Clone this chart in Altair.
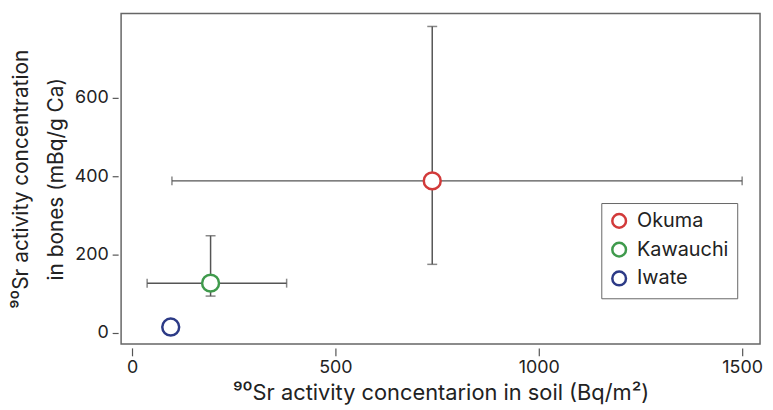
import altair as alt
import pandas as pd

sites = ["Okuma", "Kawauchi", "Iwate"]
soil = [738, 193, 95]
bone = [388, 127, 15]
soil_lo = [98, 37, None]
soil_hi = [1500, 380, None]
bone_lo = [175, 94, None]
bone_hi = [782, 248, None]
colors = ["#d23a3a", "#3f9a4c", "#2c3a86"]

df = pd.DataFrame({"site": sites, "soil": soil, "bone": bone,
                   "soil_lo": soil_lo, "soil_hi": soil_hi,
                   "bone_lo": bone_lo, "bone_hi": bone_hi})
err = df.dropna()

FONT = "Inter"
xs = alt.Scale(domain=[-27, 1544], nice=False, zero=False)
ys = alt.Scale(domain=[-28, 815], nice=False, zero=False)

xax = alt.Axis(values=[0, 500, 1000, 1500], format="d",
               title="⁹⁰Sr activity concentarion in soil (Bq/m²)",
               grid=False, domain=False, offset=4, tickSize=8, tickColor="#555", tickWidth=1.2,
               labelFontSize=18, titleFontSize=22, labelFont=FONT, titleFont=FONT,
               labelColor="#222", titleColor="#222", titleFontWeight="normal",
               labelPadding=3, titlePadding=6)
yax = alt.Axis(values=[0, 200, 400, 600], format="d",
               title=["⁹⁰Sr activity concentration", "in bones (mBq/g Ca)"],
               grid=False, domain=False, offset=3, tickSize=6, tickColor="#555", tickWidth=1.2,
               labelFontSize=18, titleFontSize=21, titleLineHeight=35, labelFont=FONT, titleFont=FONT,
               labelColor="#222", titleColor="#222", titleFontWeight="normal",
               labelPadding=4, titlePadding=8)

base_err = alt.Chart(err)
ecol = "#555555"
hbar = base_err.mark_rule(color=ecol, strokeWidth=1.5).encode(
    x=alt.X("soil_lo:Q", scale=xs, axis=xax), x2="soil_hi:Q", y=alt.Y("bone:Q", scale=ys, axis=yax))
vbar = base_err.mark_rule(color=ecol, strokeWidth=1.5).encode(
    x=alt.X("soil:Q", scale=xs), y=alt.Y("bone_lo:Q", scale=ys), y2="bone_hi:Q")
cap1 = base_err.mark_tick(orient="vertical", size=9, thickness=1.5, color=ecol).encode(
    x=alt.X("soil_lo:Q", scale=xs), y=alt.Y("bone:Q", scale=ys))
cap2 = base_err.mark_tick(orient="vertical", size=9, thickness=1.5, color=ecol).encode(
    x=alt.X("soil_hi:Q", scale=xs), y=alt.Y("bone:Q", scale=ys))
cap3 = base_err.mark_tick(orient="horizontal", size=10, thickness=1.5, color=ecol).encode(
    x=alt.X("soil:Q", scale=xs), y=alt.Y("bone_lo:Q", scale=ys))
cap4 = base_err.mark_tick(orient="horizontal", size=10, thickness=1.5, color=ecol).encode(
    x=alt.X("soil:Q", scale=xs), y=alt.Y("bone_hi:Q", scale=ys))

pts = alt.Chart(df).mark_point(shape="circle", filled=False, fill="white", fillOpacity=1,
                               size=290, strokeWidth=2.5, opacity=1).encode(
    x=alt.X("soil:Q", scale=xs),
    y=alt.Y("bone:Q", scale=ys),
    color=alt.Color("site:N", scale=alt.Scale(domain=sites, range=colors),
                    legend=alt.Legend(title=None, orient="none", legendX=484, legendY=191,
                                      labelFontSize=20, labelFont=FONT, labelColor="#222",
                                      symbolSize=190, symbolStrokeWidth=2.5, symbolType="circle",
                                      strokeColor="#666", padding=8, rowPadding=5,
                                      fillColor="white", labelOffset=8, labelLimit=200)))

chart = alt.layer(hbar, vbar, cap1, cap2, cap3, cap4, pts).properties(
    width=644, height=333,
    background="white",
    autosize=alt.AutoSizeParams(type="none"),
    padding={"left": 114, "top": 4, "right": 5, "bottom": 60},
).configure_view(stroke="#666", strokeWidth=1.5)

chart.save("out.html", embed_options={"renderer": "svg", "actions": False})
